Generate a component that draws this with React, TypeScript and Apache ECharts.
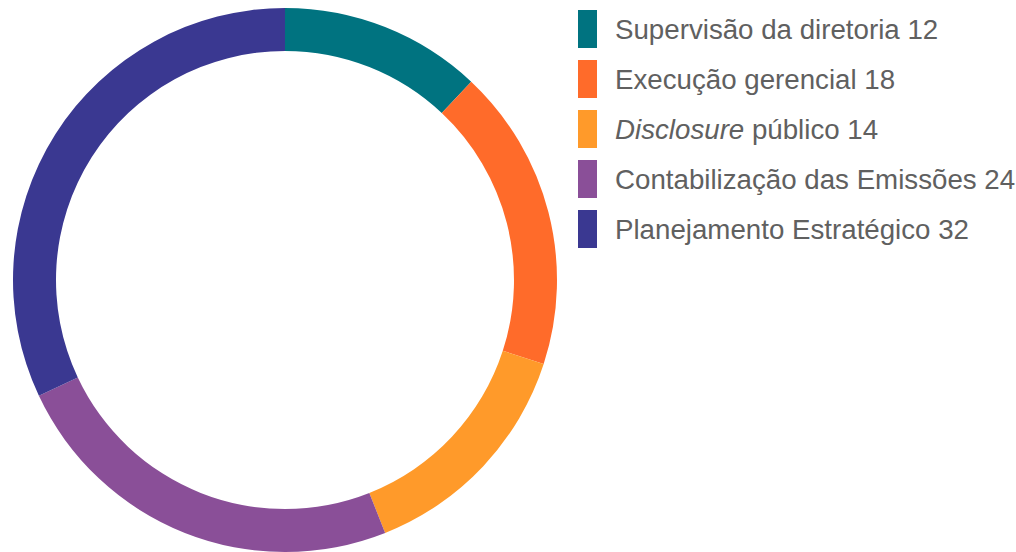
import React, { useEffect, useRef } from "react";
import * as echarts from "echarts";

const categories = [
  "Supervisão da diretoria",
  "Execução gerencial",
  "Disclosure público",
  "Contabilização das Emissões",
  "Planejamento Estratégico",
];
const values = [12, 18, 14, 24, 32];
const colors = ["#007380", "#FF6B2A", "#FF9A2A", "#8A4F98", "#3A3891"];

const FONT = "Liberation Sans, Arial, sans-serif";
const FS = 27.7;

export default function App() {
  const ref = useRef<HTMLDivElement>(null);
  useEffect(() => {
    if (!ref.current) return;
    const chart = echarts.init(ref.current, null, { renderer: "svg" });
    chart.setOption({
      animation: false,
      color: colors,
      legend: {
        orient: "vertical",
        left: 573,
        top: 5,
        itemWidth: 19,
        itemHeight: 38,
        itemGap: 12,
        icon: "rect",
        selectedMode: false,
        textStyle: {
          fontFamily: FONT,
          fontSize: FS,
          color: "#606060",
          padding: [0, 0, 0, 13],
          rich: {
            i: { fontStyle: "italic", fontSize: FS, color: "#606060", fontFamily: FONT },
            n: { fontSize: FS, color: "#606060", fontFamily: FONT },
          },
        },
        formatter: (name: string) => {
          const idx = categories.indexOf(name);
          const v = values[idx];
          if (name.startsWith("Disclosure")) {
            return "{i|Disclosure}{n|" + name.slice("Disclosure".length) + " " + v + "}";
          }
          return "{n|" + name + " " + v + "}";
        },
      },
      series: [
        {
          type: "pie",
          center: [285, 280],
          radius: [229, 272],
          startAngle: 90,
          clockwise: true,
          label: { show: false },
          labelLine: { show: false },
          emphasis: { disabled: true },
          data: categories.map((c, i) => ({ name: c, value: values[i] })),
        },
      ],
    });
    return () => chart.dispose();
  }, []);
  return (
    <div
      ref={ref}
      style={{ position: "fixed", left: 0, top: 0, width: 1016, height: 552, background: "#fff" }}
    />
  );
}
